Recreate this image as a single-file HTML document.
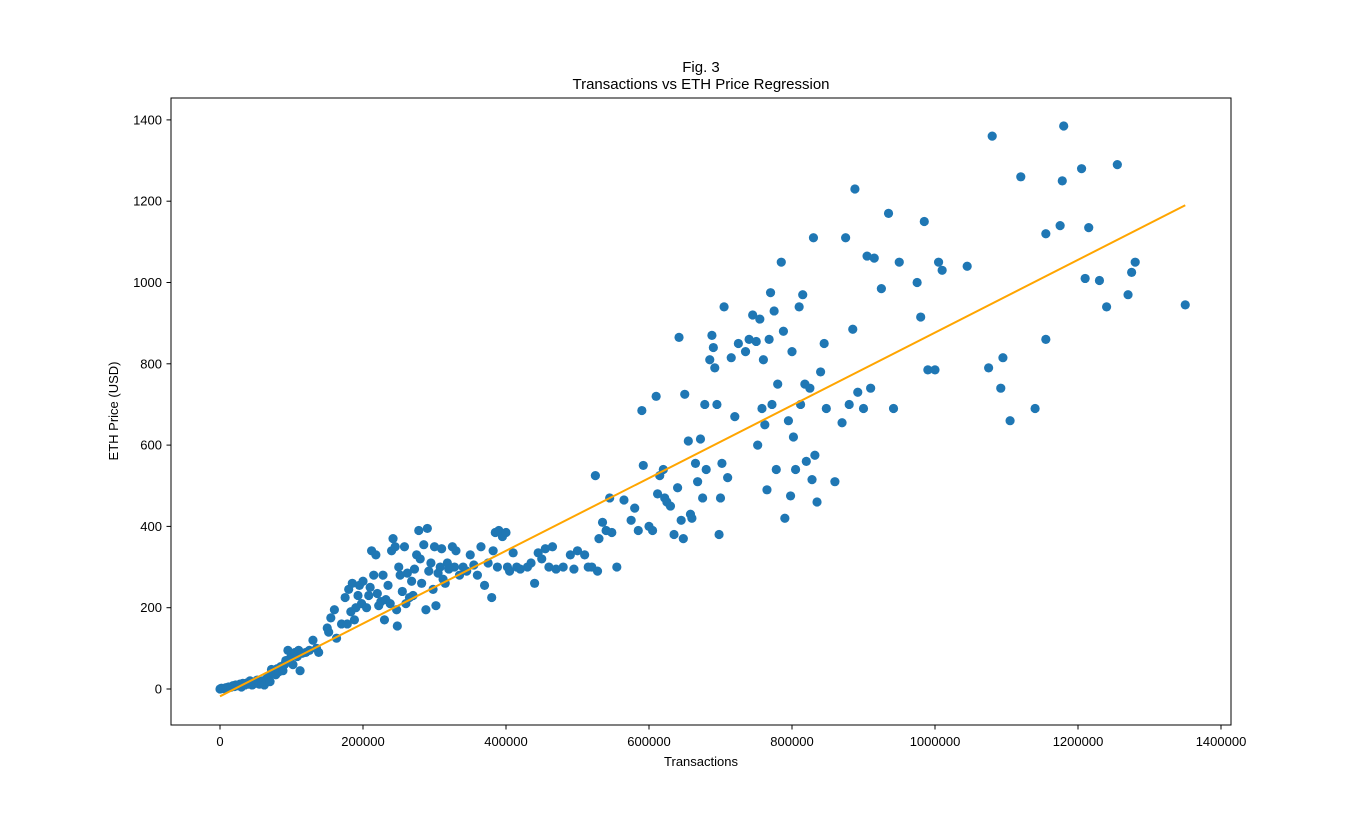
<!DOCTYPE html>
<html><head><meta charset="utf-8"><style>
html,body{margin:0;padding:0;background:#fff;}
svg{display:block;font-family:"Liberation Sans","DejaVu Sans",sans-serif;}
</style></head><body>
<svg id="chart" width="1368" height="815" viewBox="0 0 1368 815">
<rect width="1368" height="815" fill="#fff"/>
<text x="701" y="72" font-size="15" text-anchor="middle">Fig. 3</text>
<text x="701" y="89" font-size="15" text-anchor="middle">Transactions vs ETH Price Regression</text>
<g id="xticks"></g>
<g id="yticks"></g>
<g id="points"></g>
<g id="reg"></g>
<rect x="171" y="98" width="1060" height="627" fill="none" stroke="#000" stroke-width="1"/>
<text x="701" y="766" font-size="13" text-anchor="middle">Transactions</text>
<text transform="translate(118,411) rotate(-90)" font-size="13" text-anchor="middle">ETH Price (USD)</text>
</svg>
<script>
const xTicks=[0,200000,400000,600000,800000,1000000,1200000,1400000];
const yTicks=[0,200,400,600,800,1000,1200,1400];
const txK=[0,2,5,8,10,12,15,18,20,22,25,28,30,32,35,38,40,42,45,48,50,52,55,58,60,62,65,68,70,72,75,78,80,82,85,88,90,92,95,98,100,102,105,108,110,112,115,120,125,130,135,138,150,152,155,160,163,170,175,178,180,183,185,188,190,193,195,198,200,205,208,210,212,215,218,220,222,225,228,230,232,235,238,240,242,245,247,248,250,252,255,258,260,262,265,268,270,272,275,278,280,282,285,288,290,292,295,298,300,302,305,308,310,312,315,318,320,325,328,330,335,340,345,350,355,360,365,370,375,380,382,385,388,390,395,400,402,405,410,415,420,430,435,440,445,450,455,460,465,470,480,490,495,500,510,515,520,525,528,530,535,540,545,548,555,565,575,580,585,590,592,600,605,610,612,615,620,622,625,630,635,640,642,645,648,650,655,658,660,665,668,672,675,678,680,685,688,690,692,695,698,700,702,705,710,715,720,725,735,740,745,750,752,755,758,760,762,765,768,770,772,775,778,780,785,788,790,795,798,800,802,805,810,812,815,818,820,825,828,830,832,835,840,845,848,860,870,875,880,885,888,892,900,905,910,915,925,935,942,950,975,980,985,990,1000,1005,1010,1045,1075,1080,1092,1095,1105,1120,1140,1155,1155,1175,1178,1180,1205,1210,1215,1230,1240,1255,1270,1275,1280,1350];
const price=[0,2,1,3,2,5,4,8,6,10,8,12,5,14,10,15,12,20,10,16,14,22,12,18,20,10,25,30,18,48,40,35,50,42,55,45,60,70,95,75,85,60,90,80,95,45,88,90,95,120,100,90,150,140,175,195,125,160,225,160,245,190,260,170,200,230,255,210,265,200,230,250,340,280,330,235,205,215,280,170,220,255,210,340,370,350,195,155,300,280,240,350,210,285,225,265,230,295,330,390,320,260,355,195,395,290,310,245,350,205,285,300,345,270,260,310,295,350,300,340,280,300,290,330,305,280,350,255,310,225,340,385,300,390,375,385,300,290,335,300,295,300,310,260,335,320,345,300,350,295,300,330,295,340,330,300,300,525,290,370,410,390,470,385,300,465,415,445,390,685,550,400,390,720,480,525,540,470,460,450,380,495,865,415,370,725,610,430,420,555,510,615,470,700,540,810,870,840,790,700,380,470,555,940,520,815,670,850,830,860,920,855,600,910,690,810,650,490,860,975,700,930,540,750,1050,880,420,660,475,830,620,540,940,700,970,750,560,740,515,1110,575,460,780,850,690,510,655,1110,700,885,1230,730,690,1065,740,1060,985,1170,690,1050,1000,915,1150,785,785,1050,1030,1040,790,1360,740,815,660,1260,690,1120,860,1140,1250,1385,1280,1010,1135,1005,940,1290,970,1025,1050,945];
const regX=[0,1350000];
const regY=[-18,1190];
const X=v=>220+v*0.000715;
const Y=v=>689-v*0.4065;
const NS="http://www.w3.org/2000/svg";
function mk(tag,attrs,parent){const e=document.createElementNS(NS,tag);for(const k in attrs)e.setAttribute(k,attrs[k]);parent.appendChild(e);return e;}
const gx=document.getElementById('xticks');
xTicks.forEach(t=>{
 const l=mk('line',{x1:X(t),x2:X(t),y1:725,y2:729.5,stroke:'#000'},gx);
 
 
 const tx=mk('text',{x:X(t),y:746,'font-size':13,'text-anchor':'middle'},gx);
 tx.textContent=String(t);
 
 
});
const gy=document.getElementById('yticks');
yTicks.forEach(t=>{
 const l=mk('line',{x1:166.5,x2:171,y1:Y(t),y2:Y(t),stroke:'#000'},gy);
 
 
 const tx=mk('text',{x:162,y:Y(t)+4.5,'font-size':13,'text-anchor':'end'},gy);
 tx.textContent=String(t);
 
 
});
const gp=document.getElementById('points');
txK.forEach((t,i)=>{
 const c=mk('circle',{cx:X(t*1000),cy:Y(price[i]),r:4.6,fill:'#1f77b4'},gp);
 
 
});
const gr=document.getElementById('reg');
const ln=mk('line',{x1:X(regX[0]),y1:Y(regY[0]),x2:X(regX[1]),y2:Y(regY[1]),stroke:'#ffa500','stroke-width':2},gr);


</script>
</body></html>
